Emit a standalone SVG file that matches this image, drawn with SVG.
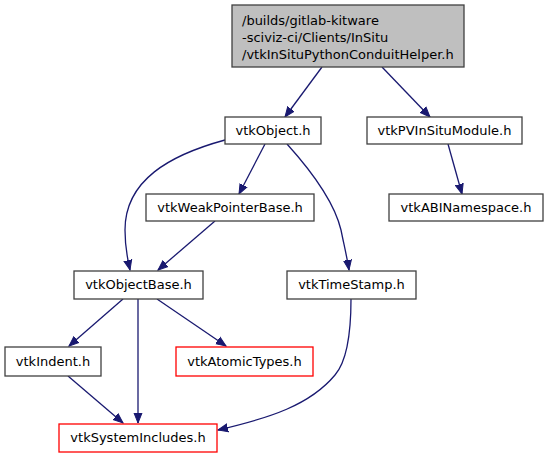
<svg xmlns="http://www.w3.org/2000/svg" width="548" height="459" viewBox="0 0 548 459">
<style>
.n rect{fill:#ffffff;stroke:#404040;stroke-width:1.3}
.r rect{fill:#ffffff;stroke:#ff0000;stroke-width:1.3}
.m rect{fill:#bfbfbf;stroke:#404040;stroke-width:1.3}
text{font-family:"DejaVu Sans",sans-serif;font-size:13px;fill:#000000}
.c{text-anchor:middle}
.e path{fill:none;stroke:#191970;stroke-width:1.3;marker-end:url(#a)}
</style>
<defs>
<marker id="a" markerUnits="userSpaceOnUse" markerWidth="12" markerHeight="10" viewBox="0 -5 12 10" refX="10" refY="0" orient="auto">
<path d="M0,-4 L10,0 L0,4 z" fill="#191970" stroke="#191970" stroke-width="1"/>
</marker>
</defs>
<g id="edges" class="e">
<path d="M322,67 L285,117"/>
<path d="M382,67 L430,117"/>
<path d="M265,144 L239,194"/>
<path d="M225,140 C170,155 125,180 125,230 C125,245 127,257 130,270"/>
<path d="M215,221 L158,270"/>
<path d="M287,144 C315,175 335,205 341,230 C344,245 347,257 349,270"/>
<path d="M448,144 L462,194"/>
<path d="M123,299 L69,346"/>
<path d="M138,299 L138,423"/>
<path d="M157,299 L226,346"/>
<path d="M68,376 L123,423"/>
<path d="M351,299 C351,330 348,360 335,375 C310,405 270,418 218,430"/>
</g>
<g id="main" class="m"><rect x="232" y="5" width="232" height="62"/>
<text x="242" y="25">/builds/gitlab-kitware</text>
<text x="242" y="42">-sciviz-ci/Clients/InSitu</text>
<text x="242" y="59">/vtkInSituPythonConduitHelper.h</text></g>
<g id="vtkObject" class="n"><rect x="225" y="117" width="96" height="27"/><text class="c" x="273" y="135">vtkObject.h</text></g>
<g id="vtkPVInSituModule" class="n"><rect x="367" y="117" width="155" height="27"/><text class="c" x="444.5" y="135">vtkPVInSituModule.h</text></g>
<g id="vtkWeakPointerBase" class="n"><rect x="146" y="194" width="168" height="27"/><text class="c" x="230" y="212">vtkWeakPointerBase.h</text></g>
<g id="vtkABINamespace" class="n"><rect x="389" y="194" width="154" height="27"/><text class="c" x="466" y="212">vtkABINamespace.h</text></g>
<g id="vtkObjectBase" class="n"><rect x="74" y="271" width="129" height="28"/><text class="c" x="138.5" y="289">vtkObjectBase.h</text></g>
<g id="vtkTimeStamp" class="n"><rect x="287" y="271" width="129" height="28"/><text class="c" x="351.5" y="289">vtkTimeStamp.h</text></g>
<g id="vtkIndent" class="n"><rect x="5" y="347" width="96" height="29"/><text class="c" x="53" y="366">vtkIndent.h</text></g>
<g id="vtkAtomicTypes" class="r"><rect x="176" y="347" width="137" height="29"/><text class="c" x="244.5" y="366">vtkAtomicTypes.h</text></g>
<g id="vtkSystemIncludes" class="r"><rect x="59" y="424" width="158" height="28"/><text class="c" x="138" y="442">vtkSystemIncludes.h</text></g>
</svg>
